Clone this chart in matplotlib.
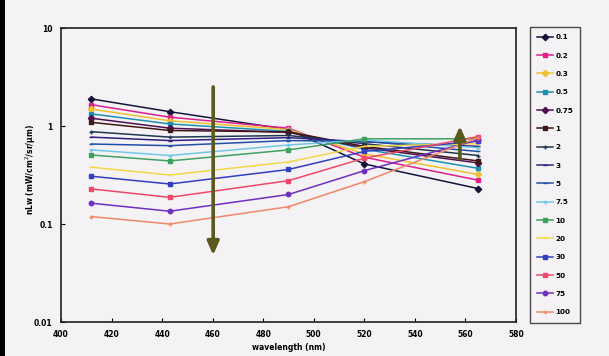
import matplotlib
matplotlib.use("Agg")
import matplotlib.pyplot as plt
from matplotlib.patches import Rectangle
from matplotlib.ticker import FixedLocator, NullLocator

wavelengths = [412, 443, 490, 520, 565]
labels = ["0.1", "0.2", "0.3", "0.5", "0.75", "1", "2", "3", "5", "7.5",
          "10", "20", "30", "50", "75", "100"]
nlw = [
    [1.89, 1.40, 0.92, 0.41, 0.23],
    [1.65, 1.23, 0.95, 0.48, 0.28],
    [1.49, 1.13, 0.92, 0.52, 0.32],
    [1.33, 1.05, 0.88, 0.58, 0.37],
    [1.20, 0.95, 0.86, 0.60, 0.42],
    [1.09, 0.90, 0.87, 0.62, 0.44],
    [0.875, 0.77, 0.80, 0.66, 0.50],
    [0.77, 0.71, 0.76, 0.69, 0.62],
    [0.655, 0.63, 0.71, 0.70, 0.55],
    [0.57, 0.50, 0.64, 0.72, 0.60],
    [0.506, 0.44, 0.57, 0.74, 0.74],
    [0.38, 0.316, 0.43, 0.62, 0.66],
    [0.307, 0.256, 0.36, 0.55, 0.70],
    [0.228, 0.187, 0.277, 0.47, 0.78],
    [0.163, 0.135, 0.20, 0.35, 0.72],
    [0.119, 0.100, 0.15, 0.27, 0.76],
]
colors = ["#14143a", "#e0208c", "#f0c030", "#2090b0", "#501050", "#401818",
          "#203850", "#302080", "#2050a8", "#70c8e8", "#40a060", "#f0d848",
          "#3040c0", "#f04868", "#7030c0", "#f08868"]
markers = ["D", "s", "D", "s", "D", "s", "+", "_", "_", "+", "s", "_",
           "s", "s", "o", "+"]

bg = "#f4f2f4"
fig = plt.figure(figsize=(6.09, 3.56), dpi=100, facecolor=bg)
ax = fig.add_axes([61/609, 1-322/356, (516-61)/609, (322-28)/356], facecolor=bg)

handles = []
for lab, vals, c, m in zip(labels, nlw, colors, markers):
    h, = ax.plot(wavelengths, vals, color=c, lw=1.1, marker=m, ms=3.2,
                 mew=1.0, label=lab)
    handles.append(h)

ax.set_yscale("log")
ax.set_ylim(0.01, 10)
ax.set_xlim(400, 580)
ax.xaxis.set_major_locator(FixedLocator(range(400, 581, 20)))
ax.yaxis.set_major_locator(FixedLocator([0.01, 0.1, 1, 10]))
ax.yaxis.set_minor_locator(NullLocator())
ax.set_yticklabels(["0.01", "0.1", "1", "10"])
ax.tick_params(direction="in", length=3, width=0.8, labelsize=5.5, pad=6)
for lbl in ax.get_xticklabels() + ax.get_yticklabels():
    lbl.set_fontweight("bold")
for s in ax.spines.values():
    s.set_linewidth(1.2)
    s.set_color("#202020")
ax.set_xlabel("wavelength (nm)", fontsize=5.5, fontweight="bold", labelpad=3)
ax.set_ylabel("nLw (mW/cm$^2$/sr/\u03bcm)", fontsize=5.5, fontweight="bold")
ax.yaxis.set_label_coords(-0.05, 0.52)

arrow_col = "#5a5a1e"
ax.annotate("", xy=(460.2, 0.048), xytext=(460.2, 2.5),
            arrowprops=dict(arrowstyle="-|>,head_width=0.35,head_length=0.8",
                            color=arrow_col, lw=2.6, shrinkA=0, shrinkB=0))
ax.annotate("", xy=(557.8, 1.0), xytext=(557.8, 0.46),
            arrowprops=dict(arrowstyle="-|>,head_width=0.35,head_length=0.8",
                            color=arrow_col, lw=2.6, shrinkA=0, shrinkB=0))

leg = fig.legend(handles=handles, loc="upper left",
                 bbox_to_anchor=(530/609, 1-27/356), fontsize=5.2,
                 frameon=True, fancybox=False, edgecolor="#202020",
                 facecolor=bg, handlelength=2.2, handletextpad=0.3,
                 borderpad=1.0, labelspacing=1.7, borderaxespad=0)
leg.get_frame().set_linewidth(1.0)
for t in leg.get_texts():
    t.set_fontweight("bold")

fig.patches.append(Rectangle((0, 0), 5/609, 1, transform=fig.transFigure,
                             facecolor="black", edgecolor="none"))

fig.savefig("out.png", dpi=100, facecolor=bg)
